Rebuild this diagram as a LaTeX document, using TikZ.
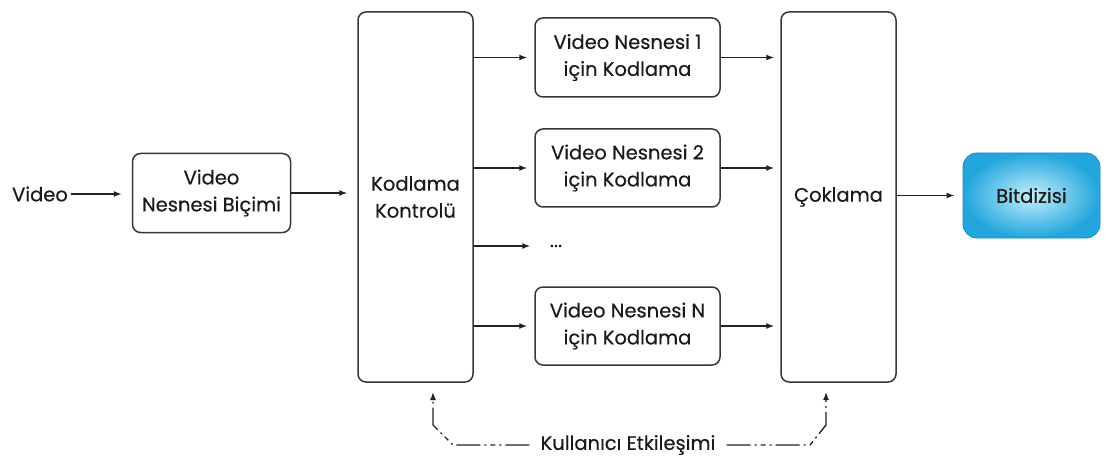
\documentclass[tikz,border=0pt]{standalone}
\usepackage{fontspec}
\setmainfont{Poppins}[FakeBold=0.4]
\usetikzlibrary{arrows.meta}
\definecolor{boxc}{HTML}{2E3A40}
\definecolor{linec}{HTML}{222222}
\definecolor{txtc}{HTML}{1A1A1A}
\definecolor{bitin}{HTML}{C4EEFB}
\definecolor{bitout}{HTML}{22A6DD}
\definecolor{bitborder}{HTML}{1A8CC0}
\begin{document}
\begin{tikzpicture}[x=1pt,y=-1pt,
  every node/.style={text=txtc, font=\fontsize{19.5}{27}\selectfont},
  box/.style={draw=boxc, line width=1.5pt, rounded corners=8pt, align=center, inner sep=0pt},
  arr/.style={draw=linec, line width=1.4pt, -{Latex[length=8pt,width=6pt]}},
  dd/.style={draw=linec, line width=1.4pt, dash pattern=on 24pt off 4pt on 2pt off 4pt on 5pt off 4pt on 2pt off 4pt},
  ddarr/.style={dd, -{Latex[length=8pt,width=6pt]}}]
\useasboundingbox (0,0) rectangle (1105,457);

\node (vin) at (40,194) {Video};
\node[box, minimum width=158pt, minimum height=79pt] (fmt) at (211.5,193) {Video\\Nesnesi Biçimi};
\node[box, minimum width=115pt, minimum height=370pt] (ctrl) at (415.5,197) {Kodlama\\Kontrolü};
\node[box, minimum width=185pt, minimum height=79pt] (e1) at (627.5,57.5) {Video Nesnesi 1\\için Kodlama};
\node[box, minimum width=185pt, minimum height=78pt] (e2) at (627.5,168) {Video Nesnesi 2\\için Kodlama};
\node (dots) at (556,246) {...};
\node[box, minimum width=185pt, minimum height=78pt] (eN) at (627.5,326) {Video Nesnesi N\\için Kodlama};
\node[box, minimum width=115pt, minimum height=370pt] (mux) at (838.5,197) {Çoklama};
\node[draw=bitborder, line width=0.8pt, rounded corners=14pt, shading=radial, inner color=bitin, outer color=bitout, minimum width=137pt, minimum height=85pt] (bit) at (1031.5,195.5) {Bitdizisi};
\node[inner xsep=11pt] (user) at (628,445) {Kullanıcı Etkileşimi};

\coordinate (l1) at (453,445);
\coordinate (l2) at (433,425);
\coordinate (l3) at (433,392);
\coordinate (r1) at (810,445);
\coordinate (r2) at (826,425);
\coordinate (r3) at (826,392);

\draw[arr, shorten >=10pt] (vin.east) -- (vin.east -| fmt.west);
\draw[arr, shorten >=10pt] (fmt.east) -- (fmt.east -| ctrl.west);
\draw[arr, shorten >=7pt] (ctrl.east |- e1) -- (e1.west);
\draw[arr, shorten >=7pt] (ctrl.east |- e2) -- (e2.west);
\draw[arr, shorten >=16pt] (ctrl.east |- dots) -- (dots.west);
\draw[arr, shorten >=7pt] (ctrl.east |- eN) -- (eN.west);
\draw[arr, shorten >=6pt] (e1.east) -- (e1.east -| mux.west);
\draw[arr, shorten >=6pt] (e2.east) -- (e2.east -| mux.west);
\draw[arr, shorten >=6pt] (eN.east) -- (eN.east -| mux.west);
\draw[arr, shorten >=8pt] (mux.east |- bit) -- (bit.west);

\draw[ddarr] (user.west) -- (l1) -- (l2) -- (l3);
\draw[ddarr] (user.east) -- (r1) -- (r2) -- (r3);
\end{tikzpicture}
\end{document}
